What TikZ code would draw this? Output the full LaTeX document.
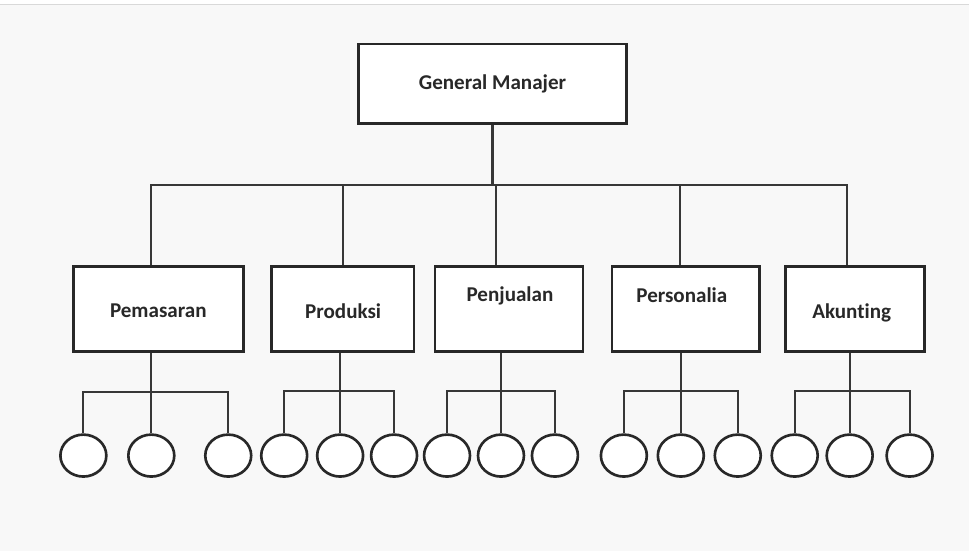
\documentclass[tikz,border=0pt]{standalone}
\usepackage{fontspec}
\setmainfont{Carlito}[Ligatures=NoCommon]
\usetikzlibrary{shapes.geometric}
\definecolor{paper}{RGB}{248,248,248}
\definecolor{ink}{RGB}{40,40,40}
\definecolor{wire}{RGB}{55,55,55}
\tikzset{
  unit/.style={draw=ink, line width=1.6pt, fill=white},
  label/.style={font=\bfseries\fontsize{12}{14}\selectfont, text=ink},
  staff/.style={ellipse, draw=ink, line width=1.5pt, fill=white, minimum width=0.92cm, minimum height=0.84cm, inner sep=0pt},
  wire/.style={draw=wire, line width=1.2pt}
}

\begin{document}
\begin{tikzpicture}[x=0.02cm, y=-0.02cm]
		%%%%% BACKGROUND %%%%%
		\fill[paper] (0, 0) rectangle (969, 551);
		\fill[white] (0, 0) rectangle (969, 4);
		\draw[black!15, line width=0.5pt] (0, 4) -- (969, 4);
		\useasboundingbox (0, 0) rectangle (969, 551);
		
		%%%%% TOP %%%%%
		\node[unit, label, minimum width=5.38cm, minimum height=1.6cm] (gm) at (492.5, 84) {General Manajer};
		
		%%%%% DEPARTMENTS %%%%%
		\node[unit, minimum width=3.4cm, minimum height=1.7cm] (pem) at (158, 309.5) {};
		\node[unit, minimum width=2.86cm, minimum height=1.7cm] (pro) at (342.5, 309.5) {};
		\node[unit, minimum width=2.96cm, minimum height=1.7cm] (pen) at (509, 309.5) {};
		\node[unit, minimum width=2.96cm, minimum height=1.7cm] (per) at (686, 309.5) {};
		\node[unit, minimum width=2.78cm, minimum height=1.7cm] (aku) at (855.5, 309.5) {};
		
		\node[label] (pem-l) at (158, 311) {Pemasaran};
		\node[label] (pro-l) at (343, 311) {Produksi};
		\node[label] (pen-l) at (510, 296) {Penjualan};
		\node[label] (per-l) at (682, 295) {Personalia};
		\node[label] (aku-l) at (852, 313) {Akunting};
		
		%%%%% BUS %%%%%
		\coordinate (bus-l) at (151, 185);
		\coordinate (bus-r) at (847, 185);
		\coordinate (pro-t) at (343, 185);
		\coordinate (pen-t) at (496, 185);
		\coordinate (per-t) at (680, 185);
		
		\draw[wire] (gm.south) -- (gm.south |- bus-l);
		\draw[wire] (pem.north -| bus-l) -- (bus-l) -- (bus-r) -- (bus-r |- aku.north);
		\draw[wire] (pro-t) -- (pro-t |- pro.north);
		\draw[wire] (pen-t) -- (pen-t |- pen.north);
		\draw[wire] (per-t) -- (per-t |- per.north);
		
		%%%%% STAFF %%%%%
		\node[staff] (pem1) at (83, 456) {};
		\node[staff] (pem2) at (151, 456) {};
		\node[staff] (pem3) at (228, 456) {};
		
		\node[staff] (pro1) at (284, 456) {};
		\node[staff] (pro2) at (340, 456) {};
		\node[staff] (pro3) at (394, 456) {};
		
		\node[staff] (pen1) at (447, 456) {};
		\node[staff] (pen2) at (501, 456) {};
		\node[staff] (pen3) at (555, 456) {};
		
		\node[staff] (per1) at (624, 456) {};
		\node[staff] (per2) at (681, 456) {};
		\node[staff] (per3) at (738, 456) {};
		
		\node[staff] (aku1) at (795, 456) {};
		\node[staff] (aku2) at (850, 456) {};
		\node[staff] (aku3) at (910, 456) {};
		
		%%%%% BRANCHES %%%%%
		\draw[wire] (pem1.north) -- ++(0, -41) -| (pem3.north);
		\draw[wire] (pem2.north) -- (pem2.north |- pem.south);
		
		\draw[wire] (pro1.north) -- ++(0, -42) -| (pro3.north);
		\draw[wire] (pro2.north) -- (pro2.north |- pro.south);
		
		\draw[wire] (pen1.north) -- ++(0, -42) -| (pen3.north);
		\draw[wire] (pen2.north) -- (pen2.north |- pen.south);
		
		\draw[wire] (per1.north) -- ++(0, -42) -| (per3.north);
		\draw[wire] (per2.north) -- (per2.north |- per.south);
		
		\draw[wire] (aku1.north) -- ++(0, -42) -| (aku3.north);
		\draw[wire] (aku2.north) -- (aku2.north |- aku.south);
		
		%%%%% END %%%%%
	\end{tikzpicture}
\end{document}
